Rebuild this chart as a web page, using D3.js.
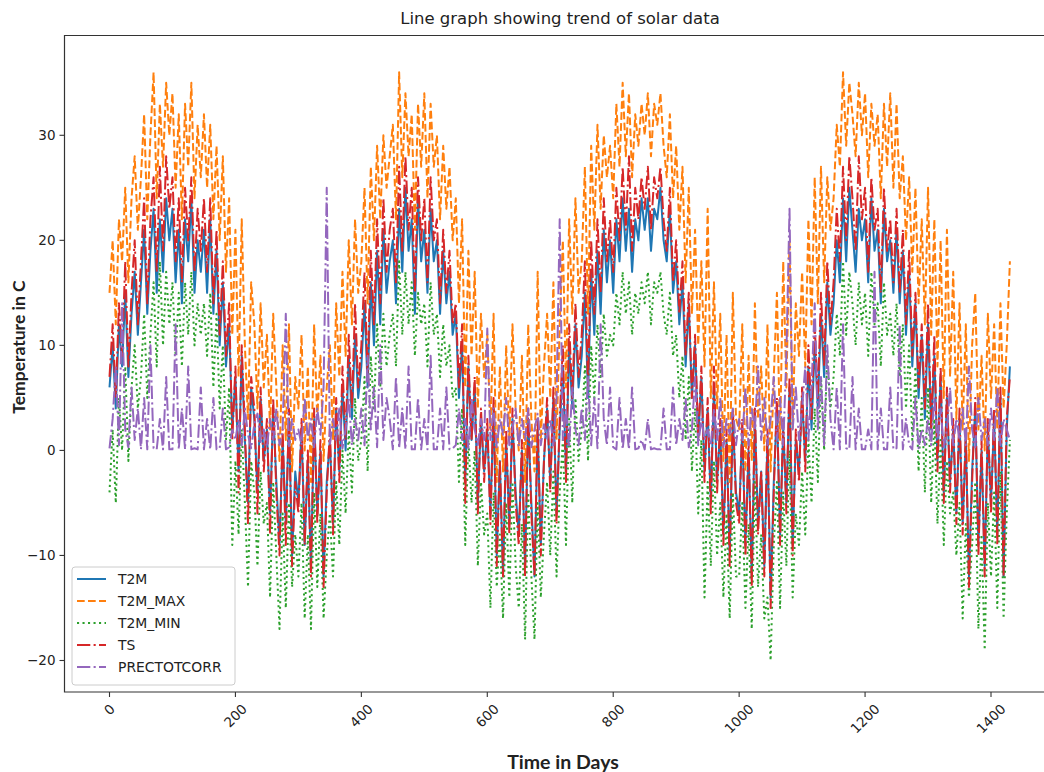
<!DOCTYPE html>
<html>
<head>
<meta charset="utf-8">
<script src="https://cdn.jsdelivr.net/npm/d3@7"></script>
<style>
  body { margin: 0; background: #fff; }
  svg { display: block; }
  text { font-family: "DejaVu Sans", sans-serif; fill: #222; }
</style>
</head>
<body>
<div id="chart"></div>
<script>
var days = d3.range(0, 1431, 5);

var t2m = [
  6, 10, 4, 12, 8, 15, 7, 13, 17, 11,
  16, 21, 13, 19, 23, 15, 22, 17, 24, 20,
  23, 16, 21, 14, 22, 18, 24, 15, 20, 17,
  21, 15, 22, 13, 19, 10, 16, 8, 12, 2,
  7, -2, 9, 1, -5, 6, 3, -4, 5, -1,
  2, -6, 4, -3, -9, 1, -7, 3, -10, -2,
  -5, 2, -9, -1, -11, 3, -6, 0, -12, -3,
  1, -7, 4, -2, 6, 0, 9, 3, 11, 5,
  8, 14, 6, 16, 10, 19, 12, 21, 15, 18,
  20, 14, 23, 17, 25, 19, 22, 13, 24, 18,
  21, 15, 23, 18, 20, 13, 19, 14, 17, 11,
  13, 5, 10, -3, 8, 1, 6, -5, 3, -2,
  2, -6, 4, -10, -1, -12, 1, -7, 3, -4,
  -8, 0, -11, 3, -5, -12, 2, -9, -1, 4,
  -3, 5, -6, 2, 8, -2, 10, 4, 12, 6,
  9, 15, 5, 17, 11, 19, 13, 21, 16, 20,
  15, 22, 18, 24, 19, 23, 17, 22, 20, 24,
  21, 24, 19, 23, 22, 25, 20, 18, 23, 15,
  18, 12, 16, 8, 14, 5, 10, 1, 7, -2,
  4, -5, 6, -3, 2, -8, 1, -10, 3, -4,
  -6, 2, -9, 0, -12, 3, -7, -2, -11, 1,
  -14, -3, 4, -8, 2, -5, 6, -9, 1, -2,
  5, -1, 8, 2, 10, 4, 13, 7, 16, 11,
  14, 20, 16, 24, 18, 25, 21, 17, 23, 20,
  22, 16, 24, 19, 21, 14, 23, 18, 20, 15,
  21, 14, 19, 11, 17, 8, 14, 5, 11, 3,
  12, 2, 9, -1, 7, -4, 5, -3, 2, -6,
  3, -7, 1, -12, -2, 4, -9, 0, -11, 2,
  -5, 3, -8, 5, -12, 2, 8
];

var t2mMax = [
  15, 20, 12, 22, 18, 25, 16, 24, 28, 21,
  26, 32, 22, 30, 36, 24, 33, 27, 35, 30,
  34, 25, 32, 22, 33, 27, 35, 24, 31, 26,
  32, 25, 31, 22, 29, 20, 28, 17, 24, 11,
  21, 7, 22, 10, 3, 16, 12, 4, 14, 6,
  11, 2, 13, 6, -1, 10, 1, 12, -2, 7,
  4, 11, 0, 8, -3, 12, 3, 9, -1, 6,
  10, 1, 14, 7, 17, 9, 20, 12, 22, 15,
  18, 25, 14, 27, 20, 29, 22, 30, 25, 28,
  31, 22, 36, 26, 34, 28, 32, 21, 33, 27,
  34, 24, 33, 27, 30, 22, 29, 23, 27, 20,
  24, 14, 22, 6, 19, 9, 17, 4, 13, 7,
  11, 2, 13, -3, 8, -2, 10, 1, 12, 4,
  0, 9, -3, 12, 3, -2, 17, 1, 8, 13,
  5, 16, 1, 12, 20, 6, 22, 13, 24, 15,
  18, 27, 13, 29, 21, 31, 23, 30, 26, 29,
  24, 33, 27, 35, 28, 34, 26, 32, 29, 33,
  30, 34, 28, 33, 31, 34, 29, 26, 32, 24,
  29, 21, 27, 16, 25, 13, 21, 10, 18, 8,
  23, 5, 16, 4, 13, -1, 11, -3, 15, 3,
  2, 12, -2, 9, -1, 14, 3, 8, 0, 12,
  -2, 7, 15, 1, 18, 6, 20, 2, 14, 9,
  17, 8, 22, 12, 26, 14, 27, 16, 26, 21,
  24, 31, 27, 36, 29, 35, 32, 28, 35, 30,
  34, 26, 33, 29, 32, 24, 33, 27, 34, 25,
  33, 24, 28, 20, 26, 17, 25, 14, 22, 12,
  25, 11, 22, 8, 20, 5, 21, 7, 17, 3,
  14, 2, 12, -1, 10, 15, 2, 9, 0, 13,
  5, 12, 2, 14, 4, 10, 18
];

var t2mMin = [
  -4, 2, -5, 5, 0, 8, -1, 6, 10, 4,
  7, 13, 5, 11, 16, 8, 18, 10, 17, 12,
  16, 9, 15, 8, 16, 11, 17, 10, 14, 11,
  14, 9, 15, 6, 13, 4, 10, 1, 6, -9,
  -1, -8, 2, -5, -13, -1, -4, -11, -2, -7,
  -5, -14, -3, -10, -17, -6, -15, -5, -13, -8,
  -12, -5, -16, -8, -17, -4, -13, -6, -16, -10,
  -6, -12, -3, -9, 0, -6, 2, -4, 5, -1,
  1, 7, -2, 9, 4, 12, 6, 13, 8, 11,
  13, 8, 18, 11, 17, 12, 16, 9, 15, 12,
  14, 8, 16, 11, 13, 7, 12, 8, 10, 5,
  6, -3, 4, -9, 1, -5, 0, -11, -3, -8,
  -6, -15, -4, -13, -8, -16, -5, -14, -3, -11,
  -15, -7, -18, -4, -12, -18, -5, -14, -8, -3,
  -10, -2, -12, -4, 1, -9, 3, -5, 5, -1,
  2, 8, -1, 10, 5, 12, 7, 13, 9, 11,
  10, 15, 12, 17, 13, 16, 11, 15, 13, 16,
  14, 17, 12, 16, 15, 17, 13, 11, 15, 9,
  11, 5, 9, 1, 7, -2, 4, -6, 1, -14,
  -3, -11, -1, -10, -5, -14, -6, -16, -4, -12,
  -12, -5, -15, -7, -17, -3, -13, -8, -16, -14,
  -20, -9, -3, -15, -4, -11, 0, -14, -6, -9,
  -2, -8, 1, -5, 4, -3, 7, 0, 9, 4,
  7, 13, 9, 18, 11, 17, 14, 10, 16, 12,
  15, 9, 17, 12, 14, 8, 16, 11, 13, 9,
  14, 7, 12, 4, 10, 1, 8, -2, 5, -4,
  6, -5, 3, -7, 1, -9, -1, -6, -4, -10,
  -5, -16, -7, -14, -9, -3, -17, -8, -19, -5,
  -12, -4, -15, -2, -16, -6, 1
];

var ts = [
  7, 12, 5, 14, 9, 18, 8, 15, 20, 12,
  18, 24, 14, 22, 26, 17, 27, 19, 28, 23,
  26, 18, 24, 16, 25, 20, 26, 17, 23, 19,
  24, 17, 24, 14, 21, 11, 18, 9, 14, 1,
  8, -4, 10, 2, -7, 7, 4, -6, 6, -2,
  3, -8, 5, -4, -10, 2, -9, 4, -11, -3,
  -6, 3, -9, 0, -12, 4, -7, 1, -13, -4,
  2, -8, 5, -3, 8, 1, 11, 4, 14, 6,
  10, 17, 7, 19, 12, 22, 14, 24, 17, 21,
  23, 16, 27, 19, 28, 21, 25, 15, 26, 20,
  24, 16, 26, 20, 22, 14, 21, 15, 19, 12,
  14, 6, 12, -5, 9, 1, 7, -6, 4, -3,
  3, -7, 5, -11, -1, -12, 2, -8, 4, -5,
  -9, 1, -12, 4, -6, -12, 3, -10, -1, 5,
  -4, 6, -7, 3, 10, -3, 12, 5, 14, 7,
  11, 18, 6, 20, 13, 22, 15, 24, 18, 22,
  17, 25, 20, 27, 21, 28, 19, 25, 22, 26,
  23, 27, 21, 26, 24, 27, 22, 19, 25, 16,
  20, 13, 18, 9, 15, 5, 11, 1, 8, -3,
  5, -6, 8, -4, 3, -9, 2, -11, 4, -5,
  -7, 3, -10, 1, -13, 4, -8, -2, -12, 2,
  -15, -4, 5, -9, 3, -6, 7, -10, 2, -3,
  6, -2, 10, 3, 12, 5, 15, 8, 18, 12,
  16, 23, 18, 27, 20, 28, 24, 19, 28, 22,
  25, 17, 26, 21, 23, 15, 25, 19, 22, 16,
  23, 15, 21, 12, 19, 9, 15, 6, 12, 4,
  14, 2, 11, -2, 8, -5, 6, -4, 3, -7,
  4, -8, 2, -13, -3, 5, -10, 1, -12, 3,
  -6, 4, -9, 6, -12, 3, 7
];

var prectotcorr = [
  0.2, 3, 8, 0.5, 14, 2, 0.3, 6, 1, 4,
  0.1, 5, 0.1, 10, 0.2, 0.1, 3, 0.1, 7, 0.1,
  0.1, 12, 0.1, 4, 0.1, 8, 0.1, 0.2, 0.1, 6,
  0.1, 3, 0.1, 5, 0.1, 0.2, 4, 0.1, 0.3, 2,
  1, 3, 0.5, 4, 1.5, 0.2, 2.5, 3.5, 0.8, 2,
  0.3, 3, 1, 4, 0.5, 2, 13, 0.4, 3, 1,
  2, 0.5, 5, 1, 3, 0.3, 4, 1.5, 6, 25,
  0.5, 3, 1, 4, 0.2, 2, 5, 0.5, 3, 1,
  4, 0.5, 9, 2, 6, 0.3, 10, 1, 5, 3,
  0.1, 7, 0.2, 4, 0.1, 8, 0.1, 0.1, 5, 0.1,
  3, 0.1, 9, 0.1, 0.1, 4, 0.1, 6, 0.1, 0.2,
  0.5, 4, 1, 3, 0.2, 5, 2, 0.5, 3, 1,
  11.6, 1, 4, 0.3, 3, 1.5, 5, 0.5, 2, 4,
  0.4, 3, 1, 4, 0.3, 2, 3.5, 0.5, 2.5, 1,
  3, 0.5, 5, 22, 1, 4, 0.3, 6, 2, 0.5,
  4, 1, 7, 0.5, 5, 0.2, 12, 3, 0.5, 6,
  0.3, 0.1, 5, 0.1, 3, 0.1, 6, 0.1, 0.2, 1,
  0.1, 3, 0.1, 0.2, 0.1, 0.1, 4, 0.1, 0.1, 6,
  0.5, 3, 1, 5, 0.3, 2, 7, 0.5, 3, 1,
  2, 0.5, 4, 1, 5, 0.3, 3, 1.5, 4, 0.5,
  3, 1, 6, 0.5, 4, 2, 8, 1, 5, 0.5,
  3, 7, 1, 5, 0.5, 9, 23, 2, 6, 1,
  4, 8, 1, 6, 14, 2, 7, 0.5, 10, 3,
  0.1, 6, 0.1, 12, 0.2, 0.1, 7, 0.1, 4, 0.1,
  0.1, 2, 0.1, 17, 0.1, 4, 0.1, 0.1, 6, 0.1,
  0.2, 12, 0.1, 3, 0.5, 0.1, 5, 0.2, 2, 0.5,
  3, 0.5, 5, 1, 4, 0.3, 2, 6, 0.5, 3,
  1, 4, 0.5, 8, 2, 0.3, 5, 1, 3, 0.5,
  4, 1, 6, 0.5, 3, 2, 1
];

var seriesNames = ["T2M", "T2M_MAX", "T2M_MIN", "TS", "PRECTOTCORR"];
var seriesValues = [t2m, t2mMax, t2mMin, ts, prectotcorr];
var seriesColors = ["#1f77b4", "#ff7f0e", "#2ca02c", "#d62728", "#9467bd"];
var seriesDash = [null, "7.7,3.3", "2.1,3.4", "13.3,3.3,2.1,3.3", "13.3,3.3,2.1,3.3"];

var xTicks = [0, 200, 400, 600, 800, 1000, 1200, 1400];
var yTicks = [-20, -10, 0, 10, 20, 30];

var width = 1044, height = 772;
var plot = {left: 64.5, top: 35.5, bottom: 692};

var svg = d3.select("#chart").append("svg")
  .attr("width", width)
  .attr("height", height);

var pxPerDay = (991 - 109.5) / 1400;
var x = d3.scaleLinear()
  .domain([-71.5, 1501.5])
  .range([109.5 - 71.5 * pxPerDay, 109.5 + 1501.5 * pxPerDay]);

var y = d3.scaleLinear().domain([-23, 39.5]).range([plot.bottom, plot.top]);

svg.append("clipPath").attr("id", "clip")
  .append("rect")
  .attr("x", plot.left).attr("y", plot.top)
  .attr("width", width - plot.left).attr("height", plot.bottom - plot.top);

var lines = svg.append("g").attr("clip-path", "url(#clip)");

seriesValues.forEach(function(vals, i) {
  var line = d3.line()
    .x(function(d, j) { return x(days[j]); })
    .y(function(d) { return y(d); });
  lines.append("path")
    .datum(vals)
    .attr("fill", "none")
    .attr("stroke", seriesColors[i])
    .attr("stroke-width", 2)
    .attr("stroke-linejoin", "round")
    .attr("stroke-dasharray", seriesDash[i])
    .attr("d", line);
});

// spines (right one falls outside the picture)
svg.append("path")
  .attr("d", "M" + (width + 20) + "," + plot.top + "H" + plot.left + "V" + plot.bottom + "H" + (width + 20))
  .attr("fill", "none")
  .attr("stroke", "#333")
  .attr("stroke-width", 1.2);

// y axis
var yAxis = svg.append("g");
yTicks.forEach(function(t) {
  yAxis.append("line")
    .attr("x1", plot.left - 5).attr("x2", plot.left)
    .attr("y1", y(t)).attr("y2", y(t))
    .attr("stroke", "#333").attr("stroke-width", 1.1);
  yAxis.append("text")
    .attr("x", plot.left - 9)
    .attr("y", y(t))
    .attr("dy", "0.35em")
    .attr("text-anchor", "end")
    .style("font-size", "13.5px")
    .text(d3.format("d")(t).replace("-", "\u2212"));
});

// x axis, labels rotated 45 degrees
var xAxis = svg.append("g");
xTicks.forEach(function(t) {
  xAxis.append("line")
    .attr("x1", x(t)).attr("x2", x(t))
    .attr("y1", plot.bottom).attr("y2", plot.bottom + 5)
    .attr("stroke", "#333").attr("stroke-width", 1.1);
  var lbl = xAxis.append("text")
    .attr("text-anchor", "middle")
    .attr("dy", "0.35em")
    .style("font-size", "13.5px")
    .text(t);
  var len = lbl.node().getComputedTextLength();
  var cy = plot.bottom + 10 + (len + 13) / (2 * Math.SQRT2);
  lbl.attr("transform", "translate(" + x(t) + "," + cy + ") rotate(-45)");
});

// titles
svg.append("text")
  .attr("x", 560).attr("y", 24)
  .attr("text-anchor", "middle")
  .style("font-size", "16.5px")
  .text("Line graph showing trend of solar data");

svg.append("text")
  .attr("x", 563).attr("y", 769)
  .attr("text-anchor", "middle")
  .style("font-family", "Lato, sans-serif")
  .style("font-weight", "bold")
  .style("font-size", "19.5px")
  .text("Time in Days");

svg.append("text")
  .attr("transform", "translate(25,347) rotate(-90)")
  .attr("text-anchor", "middle")
  .style("font-family", "Lato, sans-serif")
  .style("font-weight", "bold")
  .style("font-size", "17.5px")
  .text("Temperature in C");

// legend
var legend = svg.append("g");
legend.append("rect")
  .attr("x", 72).attr("y", 567)
  .attr("width", 163).attr("height", 118)
  .attr("rx", 3)
  .attr("fill", "#fff").attr("fill-opacity", 0.8)
  .attr("stroke", "#ccc");

seriesNames.forEach(function(name, i) {
  var ly = 579 + i * 22;
  legend.append("line")
    .attr("x1", 77).attr("x2", 106)
    .attr("y1", ly).attr("y2", ly)
    .attr("stroke", seriesColors[i])
    .attr("stroke-width", 2)
    .attr("stroke-dasharray", seriesDash[i]);
  legend.append("text")
    .attr("x", 118).attr("y", ly)
    .attr("dy", "0.35em")
    .style("font-size", "13.9px")
    .text(name);
});
</script>
</body>
</html>
